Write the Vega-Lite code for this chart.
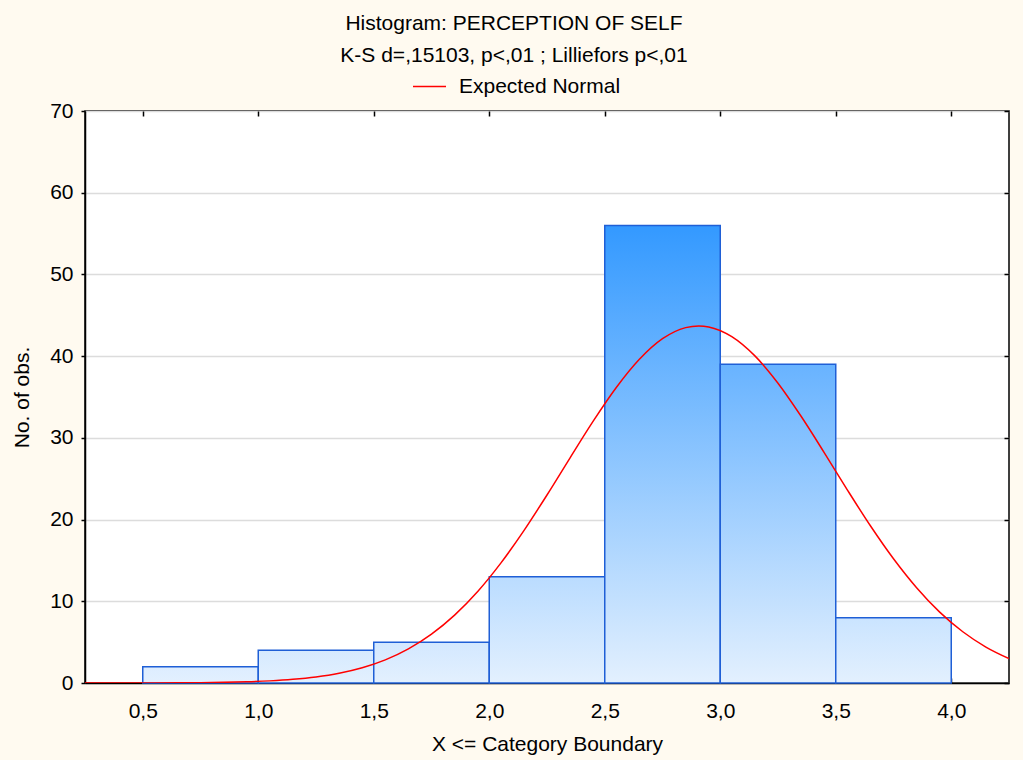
{
  "$schema": "https://vega.github.io/schema/vega-lite/v6.json",
  "autosize": "none",
  "width": 924,
  "height": 572,
  "padding": {"left": 85, "top": 111, "right": 14, "bottom": 77},
  "background": "#FFFAF0",
  "title": {
    "text": "Histogram: PERCEPTION OF SELF",
    "subtitle": "K-S d=,15103, p<,01 ; Lilliefors p<,01",
    "anchor": "middle",
    "frame": "group",
    "dx": -33,
    "offset": 3,
    "font": "Liberation Sans",
    "fontSize": 21,
    "fontWeight": "normal",
    "color": "#000000",
    "subtitleFont": "Liberation Sans",
    "subtitleFontSize": 21,
    "subtitleColor": "#000000",
    "subtitlePadding": 11
  },
  "datasets": {
    "bins": [
      {"lo": 0.5, "hi": 1.0, "count": 2},
      {"lo": 1.0, "hi": 1.5, "count": 4},
      {"lo": 1.5, "hi": 2.0, "count": 5},
      {"lo": 2.0, "hi": 2.5, "count": 13},
      {"lo": 2.5, "hi": 3.0, "count": 56},
      {"lo": 3.0, "hi": 3.5, "count": 39},
      {"lo": 3.5, "hi": 4.0, "count": 8}
    ],
    "curve": [
      {"x": 0.25, "y": 0.0012}, {"x": 0.35, "y": 0.0026}, {"x": 0.45, "y": 0.0055},
      {"x": 0.55, "y": 0.0113}, {"x": 0.65, "y": 0.0225}, {"x": 0.75, "y": 0.0434},
      {"x": 0.85, "y": 0.0811}, {"x": 0.95, "y": 0.147}, {"x": 1.05, "y": 0.26},
      {"x": 1.15, "y": 0.445}, {"x": 1.25, "y": 0.738}, {"x": 1.35, "y": 1.19},
      {"x": 1.45, "y": 1.863}, {"x": 1.55, "y": 2.83}, {"x": 1.65, "y": 4.176},
      {"x": 1.75, "y": 5.978}, {"x": 1.85, "y": 8.303}, {"x": 1.95, "y": 11.2},
      {"x": 2.05, "y": 14.67}, {"x": 2.15, "y": 18.65}, {"x": 2.25, "y": 23.01},
      {"x": 2.35, "y": 27.56}, {"x": 2.45, "y": 32.04}, {"x": 2.55, "y": 36.16},
      {"x": 2.65, "y": 39.61}, {"x": 2.75, "y": 42.13}, {"x": 2.85, "y": 43.49},
      {"x": 2.907, "y": 43.7}, {"x": 2.95, "y": 43.58}, {"x": 3.05, "y": 42.39},
      {"x": 3.15, "y": 40.03}, {"x": 3.25, "y": 36.69}, {"x": 3.35, "y": 32.64},
      {"x": 3.45, "y": 28.2}, {"x": 3.55, "y": 23.64}, {"x": 3.65, "y": 19.24},
      {"x": 3.75, "y": 15.2}, {"x": 3.85, "y": 11.66}, {"x": 3.95, "y": 8.67},
      {"x": 4.05, "y": 6.27}, {"x": 4.15, "y": 4.4}, {"x": 4.25, "y": 2.99}
    ]
  },
  "layer": [
    {
      "data": {"name": "bins"},
      "mark": {"type": "rect", "stroke": "#1F5FD6", "strokeWidth": 1.5},
      "encoding": {
        "x": {
          "field": "lo", "type": "quantitative",
          "scale": {"domain": [0.25, 4.25], "nice": false, "zero": false},
          "axis": {
            "orient": "bottom",
            "values": [0.5, 1, 1.5, 2, 2.5, 3, 3.5, 4],
            "labelExpr": "replace(format(datum.value, '.1f'), '.', ',')",
            "title": "X <= Category Boundary",
            "grid": false,
            "tickSize": -5,
            "labelPadding": 22,
            "titlePadding": 12
          }
        },
        "x2": {"field": "hi"},
        "y": {
          "field": "count", "type": "quantitative",
          "scale": {"domain": [0, 70], "nice": false},
          "axis": {
            "orient": "left",
            "values": [0, 10, 20, 30, 40, 50, 60, 70],
            "title": "No. of obs.",
            "grid": true,
            "tickSize": 4,
            "labelPadding": 8,
            "titlePadding": 17
          }
        },
        "y2": {"datum": 0},
        "fill": {
          "condition": [
            {"test": "datum.count === 2", "value": {"gradient": "linear", "x1": 0, "y1": 0, "x2": 0, "y2": 1, "stops": [{"offset": 0, "color": "#DDEDFF"}, {"offset": 1, "color": "#E3F0FE"}]}},
            {"test": "datum.count === 4", "value": {"gradient": "linear", "x1": 0, "y1": 0, "x2": 0, "y2": 1, "stops": [{"offset": 0, "color": "#D6EAFF"}, {"offset": 1, "color": "#E3F0FE"}]}},
            {"test": "datum.count === 5", "value": {"gradient": "linear", "x1": 0, "y1": 0, "x2": 0, "y2": 1, "stops": [{"offset": 0, "color": "#D3E8FF"}, {"offset": 1, "color": "#E3F0FE"}]}},
            {"test": "datum.count === 8", "value": {"gradient": "linear", "x1": 0, "y1": 0, "x2": 0, "y2": 1, "stops": [{"offset": 0, "color": "#CAE4FF"}, {"offset": 1, "color": "#E3F0FE"}]}},
            {"test": "datum.count === 13", "value": {"gradient": "linear", "x1": 0, "y1": 0, "x2": 0, "y2": 1, "stops": [{"offset": 0, "color": "#BADCFF"}, {"offset": 1, "color": "#E3F0FE"}]}},
            {"test": "datum.count === 39", "value": {"gradient": "linear", "x1": 0, "y1": 0, "x2": 0, "y2": 1, "stops": [{"offset": 0, "color": "#68B3FF"}, {"offset": 1, "color": "#E3F0FE"}]}}
          ],
          "value": {"gradient": "linear", "x1": 0, "y1": 0, "x2": 0, "y2": 1, "stops": [{"offset": 0, "color": "#3399FF"}, {"offset": 1, "color": "#E3F0FE"}]}
        }
      }
    },
    {
      "data": {"name": "curve"},
      "mark": {"type": "line", "strokeWidth": 1.5, "interpolate": "monotone", "clip": true},
      "encoding": {
        "x": {
          "field": "x", "type": "quantitative",
          "axis": {
            "orient": "top",
            "values": [0.5, 1, 1.5, 2, 2.5, 3, 3.5, 4],
            "labels": false,
            "title": null,
            "grid": false,
            "domain": false,
            "tickSize": -5
          }
        },
        "y": {
          "field": "y", "type": "quantitative",
          "axis": {
            "orient": "right",
            "values": [0, 10, 20, 30, 40, 50, 60, 70],
            "labels": false,
            "title": null,
            "grid": false,
            "domain": false,
            "tickSize": -5
          }
        },
        "color": {
          "datum": "Expected Normal",
          "type": "nominal",
          "scale": {"range": ["#FF0000"]},
          "legend": {
            "title": null,
            "orient": "none",
            "legendX": 327,
            "legendY": -42,
            "symbolType": "stroke",
            "symbolSize": 1089,
            "symbolStrokeWidth": 1.5,
            "labelOffset": 12,
            "labelLimit": 400,
            "padding": 0,
            "labelFont": "Liberation Sans",
            "labelFontSize": 21,
            "labelColor": "#000000"
          }
        }
      }
    }
  ],
  "resolve": {"axis": {"x": "independent", "y": "independent"}},
  "config": {
    "view": {"fill": "#FFFFFF", "stroke": "#000000", "strokeWidth": 1.5},
    "axis": {
      "labelFont": "Liberation Sans",
      "labelFontSize": 21,
      "labelColor": "#000000",
      "titleFont": "Liberation Sans",
      "titleFontSize": 21,
      "titleFontWeight": "normal",
      "titleColor": "#000000",
      "domainColor": "#000000",
      "domainWidth": 1.5,
      "tickColor": "#000000",
      "tickWidth": 1.5,
      "gridColor": "#DCDCDC",
      "gridWidth": 1.5
    }
  }
}
